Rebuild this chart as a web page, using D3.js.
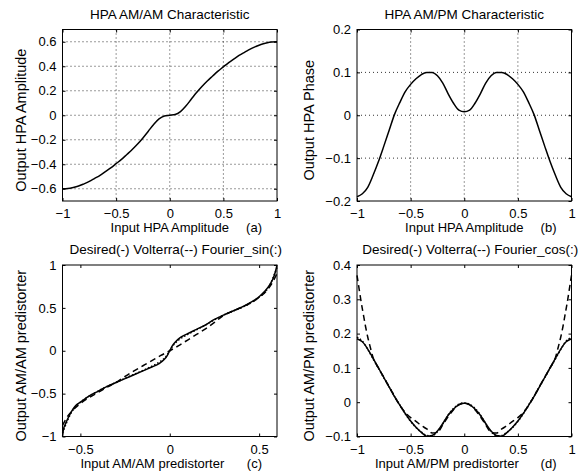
<!DOCTYPE html>
<meta charset="utf-8">
<style>

body { margin: 0; background: #fff; }
svg { font-family: "Liberation Sans", Arial, sans-serif; }
.box { fill: none; stroke: #000; stroke-width: 1px; }
.grid line { stroke: #000; stroke-width: 0.8px; stroke-dasharray: 1,3; }
.axis path { display: none; }
.axis line { stroke: #000; }
.axis text { font-size: 13px; fill: #000; }
.curve { fill: none; stroke: #000; stroke-width: 1.5px; }

</style>

<body>

<script src="https://d3js.org/d3.v7.min.js"></script>
<script>

// (a) HPA AM/AM characteristic
var amX = [-1, -0.95, -0.9, -0.85, -0.8, -0.75, -0.7, -0.65, -0.6, -0.55, -0.5, -0.45, -0.4, -0.35, -0.3, -0.25, -0.2, -0.15, -0.1, -0.05,
           0, 0.05, 0.1, 0.15, 0.2, 0.25, 0.3, 0.35, 0.4, 0.45, 0.5, 0.55, 0.6, 0.65, 0.7, 0.75, 0.8, 0.85, 0.9, 0.95, 1];
var amY = [-0.6, -0.598, -0.59, -0.578, -0.56, -0.54, -0.515, -0.49, -0.46, -0.43, -0.395, -0.36, -0.32, -0.28, -0.235, -0.185, -0.13, -0.075, -0.03, -0.006,
           0, 0.006, 0.03, 0.075, 0.13, 0.185, 0.235, 0.28, 0.32, 0.36, 0.395, 0.43, 0.46, 0.49, 0.515, 0.54, 0.56, 0.578, 0.59, 0.598, 0.6];

// (b) HPA AM/PM characteristic
var pmX = amX;
var pmY = [-0.19, -0.183, -0.168, -0.14, -0.108, -0.072, -0.035, 0.002, 0.03, 0.055, 0.072, 0.085, 0.095, 0.1, 0.1, 0.092, 0.075, 0.05, 0.028, 0.012,
           0.008, 0.012, 0.028, 0.05, 0.075, 0.092, 0.1, 0.1, 0.095, 0.085, 0.072, 0.055, 0.03, 0.002, -0.035, -0.072, -0.108, -0.14, -0.168, -0.183, -0.19];

// (c) AM/AM predistorter: desired, Volterra, Fourier_sin
var cDesX = [-0.6, -0.598, -0.595, -0.585, -0.57, -0.55, -0.526, -0.5, -0.45, -0.4, -0.35, -0.3, -0.25, -0.2, -0.15, -0.1, -0.06, -0.03, -0.015,
             0, 0.015, 0.03, 0.06, 0.1, 0.15, 0.2, 0.25, 0.3, 0.35, 0.4, 0.45, 0.5, 0.53, 0.56, 0.58, 0.592, 0.6];
var cDesY = [-1, -0.97, -0.92, -0.86, -0.79, -0.71, -0.64, -0.6, -0.525, -0.47, -0.415, -0.37, -0.325, -0.28, -0.235, -0.19, -0.15, -0.1, -0.06,
             0, 0.06, 0.1, 0.155, 0.2, 0.25, 0.3, 0.365, 0.415, 0.46, 0.505, 0.56, 0.63, 0.69, 0.77, 0.85, 0.93, 1];
var cVolX = [-0.6, -0.57, -0.55, -0.5, -0.45, -0.4, -0.35, -0.3, -0.25, -0.2, -0.15, -0.1, -0.05,
             0, 0.05, 0.1, 0.15, 0.2, 0.25, 0.3, 0.35, 0.4, 0.45, 0.5, 0.55, 0.57, 0.6];
var cVolY = [-0.87, -0.76, -0.71, -0.615, -0.545, -0.485, -0.425, -0.37, -0.3, -0.235, -0.175, -0.115, -0.055,
             0, 0.06, 0.125, 0.19, 0.255, 0.33, 0.41, 0.46, 0.505, 0.555, 0.62, 0.72, 0.78, 0.9];
var cFouX = [-0.6, -0.55, -0.5, -0.45, -0.4, -0.35, -0.3, -0.25, -0.2, -0.15, -0.1, -0.05, -0.02,
             0, 0.02, 0.05, 0.1, 0.15, 0.2, 0.25, 0.3, 0.35, 0.4, 0.45, 0.5, 0.55, 0.6];
var cFouY = [-0.96, -0.72, -0.6, -0.53, -0.47, -0.415, -0.37, -0.32, -0.275, -0.23, -0.18, -0.12, -0.065,
             0, 0.065, 0.125, 0.19, 0.245, 0.3, 0.36, 0.415, 0.46, 0.5, 0.555, 0.625, 0.73, 0.97];

// (d) AM/PM predistorter: desired, Volterra, Fourier_cos
var dDesX = amX;
var dDesY = [0.185, 0.176, 0.155, 0.128, 0.1, 0.072, 0.044, 0.016, -0.009, -0.033, -0.055, -0.073, -0.088, -0.099, -0.097, -0.084, -0.062, -0.038, -0.02, -0.007,
             -0.003, -0.007, -0.02, -0.038, -0.062, -0.084, -0.097, -0.099, -0.088, -0.073, -0.055, -0.033, -0.009, 0.016, 0.044, 0.072, 0.1, 0.128, 0.155, 0.176, 0.185];
var dVolX = [-1, -0.98, -0.96, -0.94, -0.92, -0.9, -0.88, -0.85, -0.8, -0.75, -0.7, -0.65, -0.6, -0.55, -0.5, -0.45, -0.4, -0.35, -0.3, -0.25, -0.2, -0.15, -0.1, -0.05,
             0, 0.05, 0.1, 0.15, 0.2, 0.25, 0.3, 0.35, 0.4, 0.45, 0.5, 0.55, 0.6, 0.65, 0.7, 0.75, 0.8, 0.85, 0.88, 0.9, 0.92, 0.94, 0.96, 0.98, 1];
var dVolY = [0.37, 0.33, 0.29, 0.255, 0.22, 0.19, 0.165, 0.13, 0.1, 0.073, 0.045, 0.017, -0.01, -0.03, -0.045, -0.056, -0.068, -0.078, -0.09, -0.088, -0.066, -0.042, -0.022, -0.008,
             -0.003, -0.008, -0.022, -0.042, -0.066, -0.088, -0.09, -0.078, -0.068, -0.056, -0.045, -0.03, -0.01, 0.017, 0.045, 0.073, 0.1, 0.13, 0.165, 0.19, 0.22, 0.255, 0.29, 0.33, 0.37];
var dFouX = amX;
var dFouY = [0.19, 0.178, 0.154, 0.126, 0.099, 0.071, 0.045, 0.017, -0.008, -0.034, -0.056, -0.074, -0.087, -0.097, -0.098, -0.086, -0.063, -0.037, -0.018, -0.006,
             -0.002, -0.006, -0.018, -0.037, -0.063, -0.086, -0.098, -0.097, -0.087, -0.074, -0.056, -0.034, -0.008, 0.017, 0.045, 0.071, 0.099, 0.126, 0.154, 0.178, 0.19];

// tick values per panel
var ticksA_x = [-1, -0.5, 0, 0.5, 1], ticksA_y = [-0.6, -0.4, -0.2, 0, 0.2, 0.4, 0.6];
var ticksB_x = [-1, -0.5, 0, 0.5, 1], ticksB_y = [-0.2, -0.1, 0, 0.1, 0.2];
var ticksC_x = [-0.5, 0, 0.5],        ticksC_y = [-1, -0.5, 0, 0.5, 1];
var ticksD_x = [-1, -0.5, 0, 0.5, 1], ticksD_y = [-0.1, 0, 0.1, 0.2, 0.3, 0.4];

var W = 588, H = 471,
    colLeft = [62.5, 357], rowTop = [29.5, 265],
    pw = 214.5, ph = 171.5;

var fmt = d3.format("~g");

function zip(xs, ys) { return xs.map(function(x, i) { return [x, ys[i]]; }); }

var panels = [
  {col: 0, row: 0, xd: [-1, 1], yd: [-0.7, 0.7], xt: ticksA_x, yt: ticksA_y, grid: true,
   title: "HPA AM/AM Characteristic", xlab: "Input HPA Amplitude", tag: "(a)", ylab: "Output HPA Amplitude",
   lines: [{d: zip(amX, amY), dash: null}]},
  {col: 1, row: 0, xd: [-1, 1], yd: [-0.2, 0.2], xt: ticksB_x, yt: ticksB_y, grid: true,
   title: "HPA AM/PM Characteristic", xlab: "Input HPA Amplitude", tag: "(b)", ylab: "Output HPA Phase",
   lines: [{d: zip(pmX, pmY), dash: null}]},
  {col: 0, row: 1, xd: [-0.6, 0.6], yd: [-1, 1], xt: ticksC_x, yt: ticksC_y, grid: false,
   title: "Desired(-) Volterra(--) Fourier_sin(:)", xlab: "Input AM/AM predistorter", tag: "(c)", ylab: "Output AM/AM predistorter",
   lines: [{d: zip(cFouX, cFouY), dash: "1.5,2"}, {d: zip(cVolX, cVolY), dash: "6,4"}, {d: zip(cDesX, cDesY), dash: null}]},
  {col: 1, row: 1, xd: [-1, 1], yd: [-0.1, 0.4], xt: ticksD_x, yt: ticksD_y, grid: false,
   title: "Desired(-) Volterra(--) Fourier_cos(:)", xlab: "Input AM/PM predistorter", tag: "(d)", ylab: "Output AM/PM predistorter",
   lines: [{d: zip(dFouX, dFouY), dash: "1.5,2"}, {d: zip(dVolX, dVolY), dash: "6,4"}, {d: zip(dDesX, dDesY), dash: null}]}
];

var svg = d3.select("body").append("svg")
    .attr("width", W)
    .attr("height", H);

panels.forEach(function(p) {
  var left = colLeft[p.col], top = rowTop[p.row];
  var x = d3.scaleLinear().domain(p.xd).range([0, pw]);
  var y = d3.scaleLinear().domain(p.yd).range([ph, 0]);

  var g = svg.append("g").attr("transform", "translate(" + left + "," + top + ")");

  g.append("defs").append("clipPath").attr("id", "clip" + p.tag[1])
    .append("rect").attr("x", -1).attr("y", -1).attr("width", pw + 2).attr("height", ph + 2);

  if (p.grid) {
    var grid = g.append("g").attr("class", "grid");
    grid.selectAll("line.v").data(p.xt.filter(function(v) { return v > p.xd[0] && v < p.xd[1]; }))
      .enter().append("line").attr("class", "v")
      .attr("x1", function(d) { return x(d); }).attr("x2", function(d) { return x(d); })
      .attr("y1", 0).attr("y2", ph);
    grid.selectAll("line.h").data(p.yt.filter(function(v) { return v > p.yd[0] && v < p.yd[1]; }))
      .enter().append("line").attr("class", "h")
      .attr("y1", function(d) { return y(d); }).attr("y2", function(d) { return y(d); })
      .attr("x1", 0).attr("x2", pw);
  }

  // inward ticks on all four sides, labels on bottom/left
  g.append("g").attr("class", "axis").attr("transform", "translate(0," + ph + ")")
    .call(d3.axisBottom(x).tickValues(p.xt).tickFormat(fmt).tickSizeInner(-3).tickSizeOuter(0).tickPadding(8));
  g.append("g").attr("class", "axis")
    .call(d3.axisTop(x).tickValues(p.xt).tickFormat("").tickSizeInner(-3).tickSizeOuter(0));
  g.append("g").attr("class", "axis")
    .call(d3.axisLeft(y).tickValues(p.yt).tickFormat(fmt).tickSizeInner(-3).tickSizeOuter(0).tickPadding(6));
  g.append("g").attr("class", "axis").attr("transform", "translate(" + pw + ",0)")
    .call(d3.axisRight(y).tickValues(p.yt).tickFormat("").tickSizeInner(-3).tickSizeOuter(0));

  var line = d3.line()
      .curve(d3.curveMonotoneX)
      .x(function(d) { return x(d[0]); })
      .y(function(d) { return y(d[1]); });

  g.append("g").attr("clip-path", "url(#clip" + p.tag[1] + ")")
    .selectAll("path").data(p.lines).enter().append("path")
    .attr("class", "curve")
    .attr("stroke-dasharray", function(d) { return d.dash; })
    .attr("stroke-width", function(d) { return d.dash ? 1.3 : 1.6; })
    .attr("d", function(d) { return line(d.d); });

  g.append("rect").attr("class", "box").attr("width", pw).attr("height", ph);

  // title
  g.append("text")
    .attr("x", pw / 2 + (p.row ? 6 : 0)).attr("y", -11)
    .attr("text-anchor", "middle").style("font-size", "13.5px")
    .text(p.title);

  // x label + panel tag
  g.append("text")
    .attr("x", p.row ? 18 : pw / 2).attr("y", ph + 31)
    .attr("text-anchor", p.row ? "start" : "middle").style("font-size", "13px")
    .text(p.xlab);
  g.append("text")
    .attr("x", pw - 15).attr("y", ph + 31)
    .attr("text-anchor", "end").style("font-size", "13px")
    .text(p.tag);

  // y label
  g.append("text")
    .attr("transform", "translate(" + (p.col ? -43 : -36.5) + "," + (ph / 2 + 5) + ") rotate(-90)")
    .attr("text-anchor", "middle").style("font-size", "14.5px")
    .text(p.ylab);
});

</script>
</body>
